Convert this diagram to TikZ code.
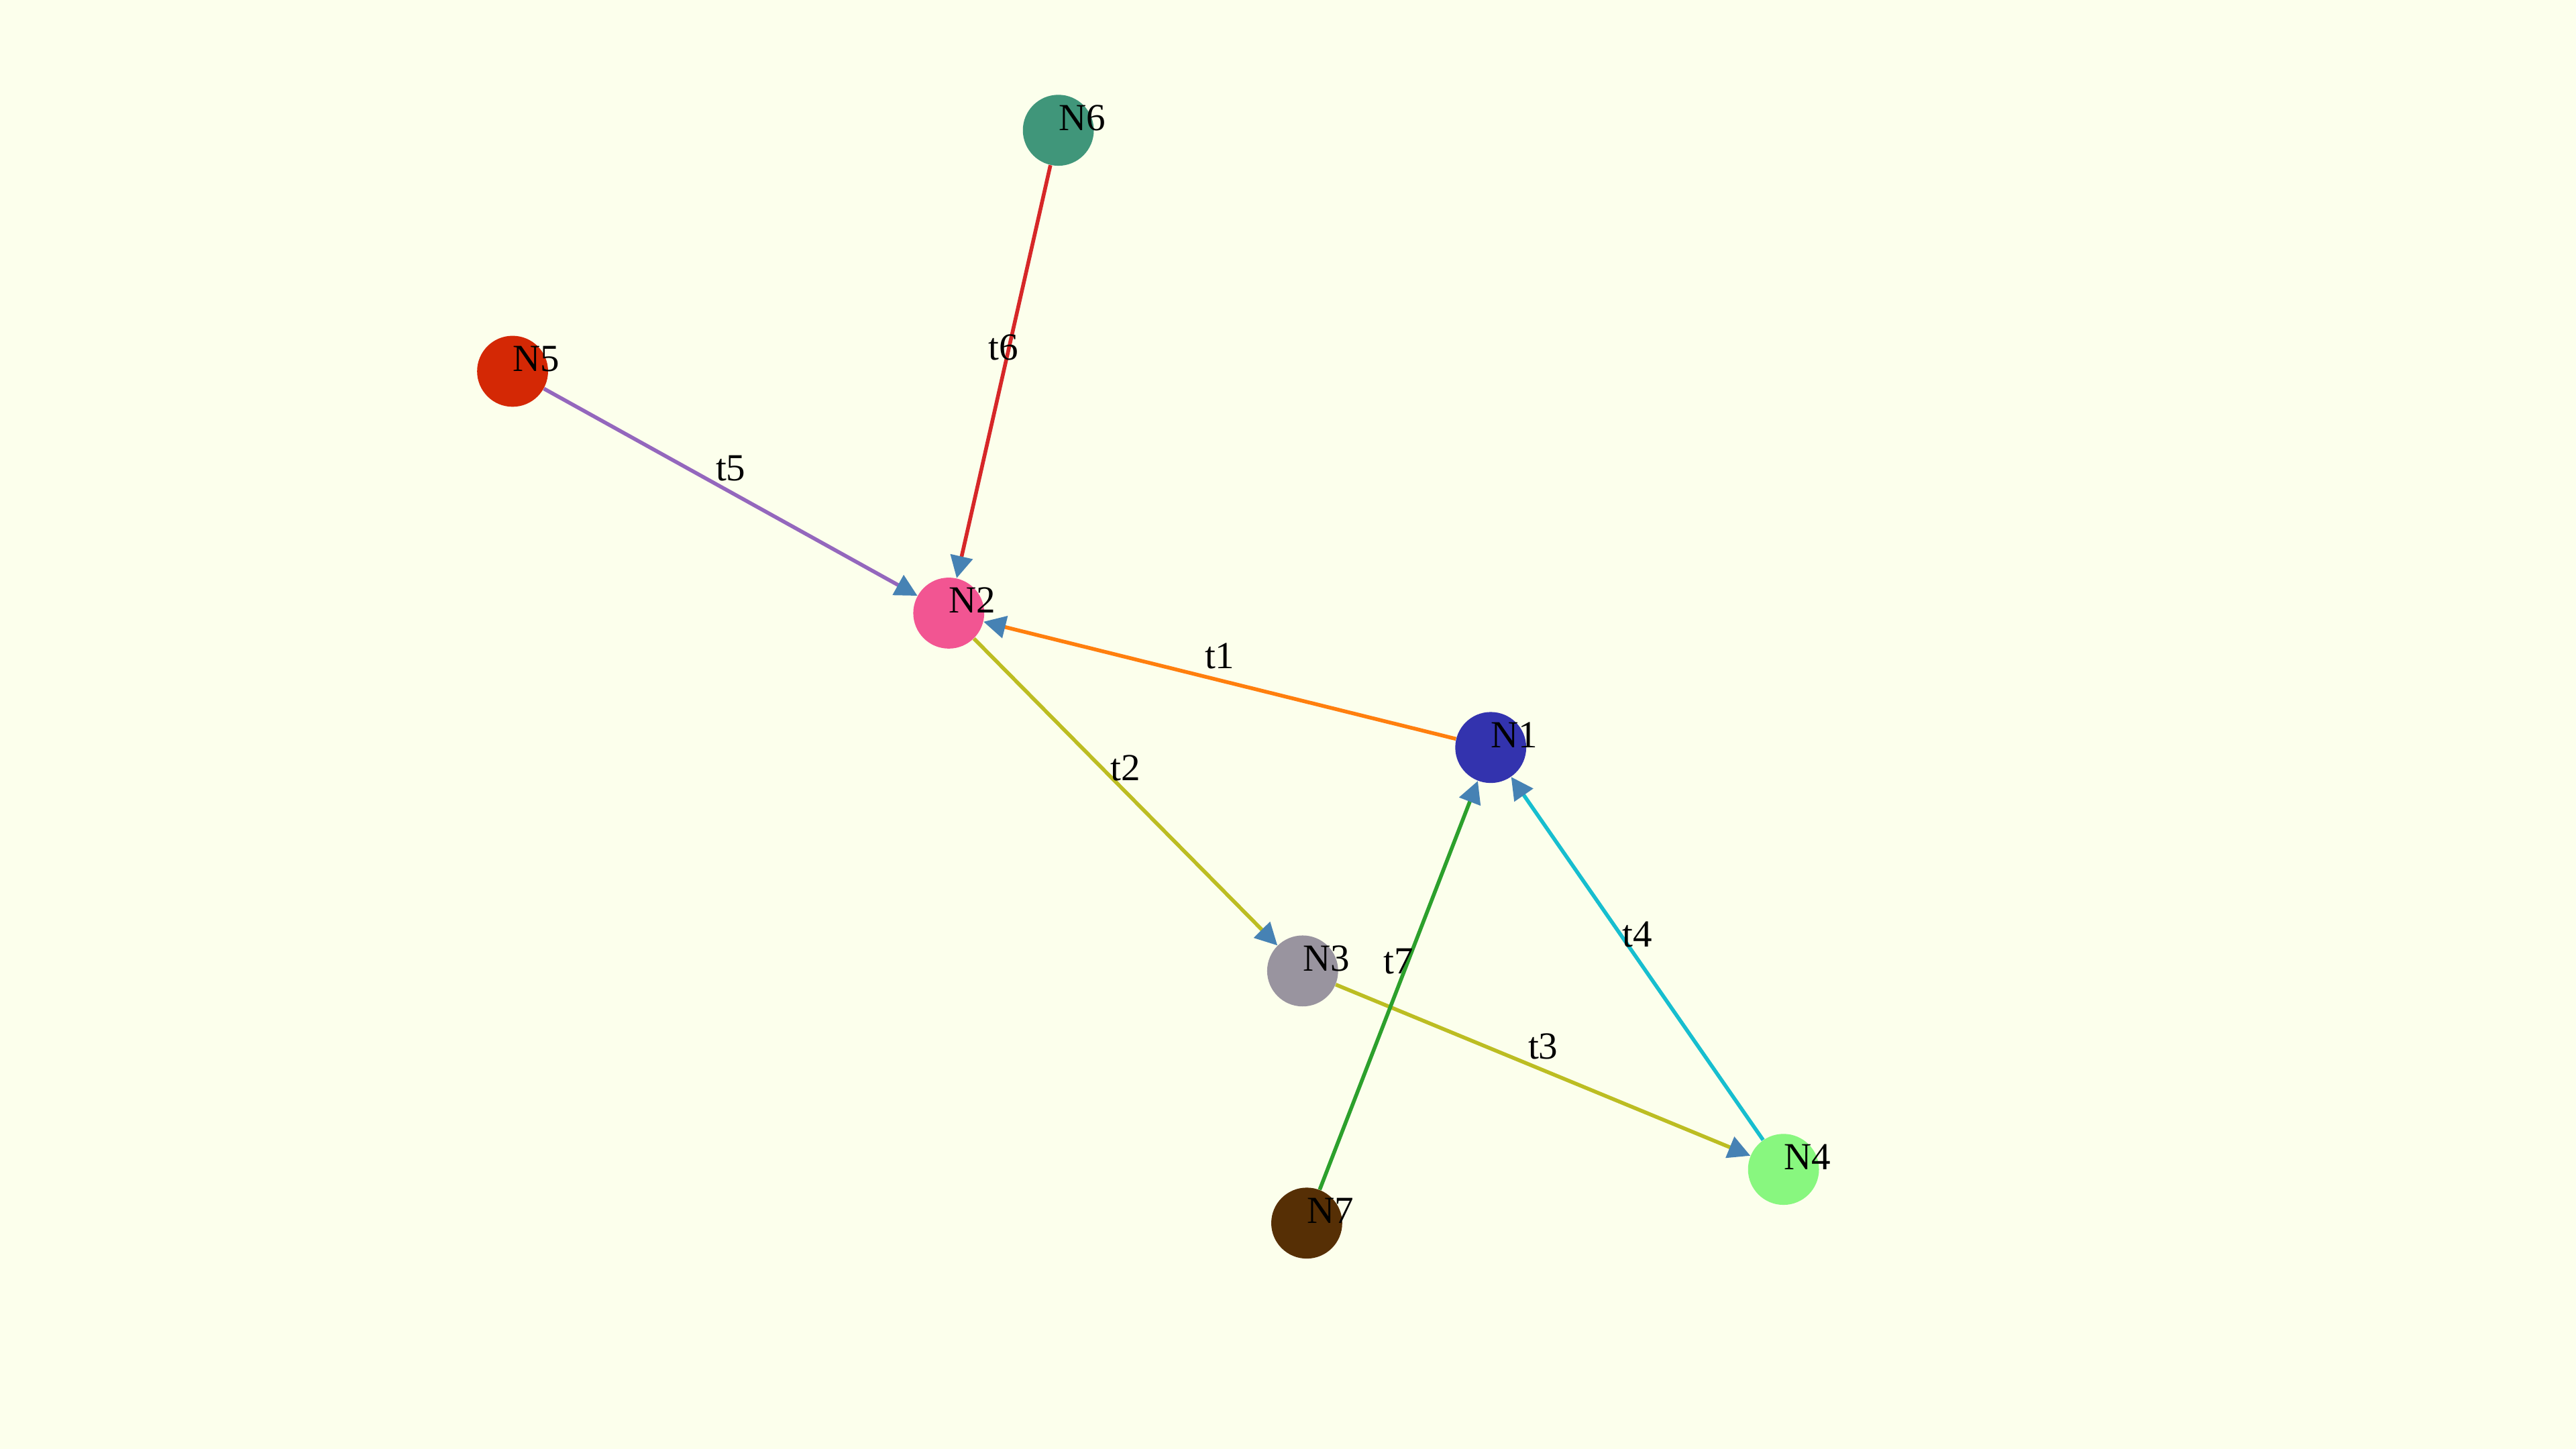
\documentclass[tikz,border=0pt]{standalone}
\usepackage{fontspec}
\setmainfont{Liberation Serif}
\usetikzlibrary{arrows.meta}

\definecolor{bgcol}{HTML}{FCFFEC}
\definecolor{tipcol}{HTML}{4682B4}
\definecolor{colA}{HTML}{3333AE}
\definecolor{colB}{HTML}{F25592}
\definecolor{colC}{HTML}{99949F}
\definecolor{colD}{HTML}{88F77F}
\definecolor{colE}{HTML}{D42805}
\definecolor{colF}{HTML}{40967A}
\definecolor{colG}{HTML}{562F05}
\definecolor{eRed}{HTML}{D62728}
\definecolor{ePurple}{HTML}{9467BD}
\definecolor{eOrange}{HTML}{FF7F0E}
\definecolor{eOlive}{HTML}{BCBD22}
\definecolor{eCyan}{HTML}{17BECF}
\definecolor{eGreen}{HTML}{2CA02C}

\tikzstyle{vertex}=[circle, inner sep=0pt, minimum size=43.2pt]
\tikzstyle{vtext}=[anchor=base west, inner sep=0pt, font=\fontsize{23.3}{28}\selectfont]
\tikzstyle{arrow}=[line width=2.3pt, -{Triangle[length=13.5pt, width=13.5pt, color=tipcol]}]
\tikzstyle{etext}=[midway, anchor=base, yshift=7pt, inner sep=0pt, text=black, font=\fontsize{23.3}{28}\selectfont]

\begin{document}
\begin{tikzpicture}[x=1pt, y=-1pt]
      \fill[bgcol] (0, 0) rectangle (1568, 882);
      \useasboundingbox (0, 0) rectangle (1568, 882);

      \node[vertex, fill=colA] (n1) at (907.4, 455) {};
      \node[vertex, fill=colB] (n2) at (577.5, 373.2) {};
      \node[vertex, fill=colC] (n3) at (792.9, 591) {};
      \node[vertex, fill=colD] (n4) at (1085.6, 711.8) {};
      \node[vertex, fill=colE] (n5) at (312, 226) {};
      \node[vertex, fill=colF] (n6) at (644.2, 79.3) {};
      \node[vertex, fill=colG] (n7) at (795.4, 744.5) {};

      \draw[arrow, eOrange] (n1) to node[etext] (l1) {t1} (n2);
      \draw[arrow, eOlive] (n2) to node[etext] (l2) {t2} (n3);
      \draw[arrow, eOlive] (n3) to node[etext] (l3) {t3} (n4);
      \draw[arrow, eCyan] (n4) to node[etext] (l4) {t4} (n1);
      \draw[arrow, ePurple] (n5) to node[etext] (l5) {t5} (n2);
      \draw[arrow, eRed] (n6) to node[etext] (l6) {t6} (n2);
      \draw[arrow, eGreen] (n7) to node[etext] (l7) {t7} (n1);

      \node[vtext] (n1 text) at (n1.center) {N1};
      \node[vtext] (n2 text) at (n2.center) {N2};
      \node[vtext] (n3 text) at (n3.center) {N3};
      \node[vtext] (n4 text) at (n4.center) {N4};
      \node[vtext] (n5 text) at (n5.center) {N5};
      \node[vtext] (n6 text) at (n6.center) {N6};
      \node[vtext] (n7 text) at (n7.center) {N7};
    \end{tikzpicture}
\end{document}
